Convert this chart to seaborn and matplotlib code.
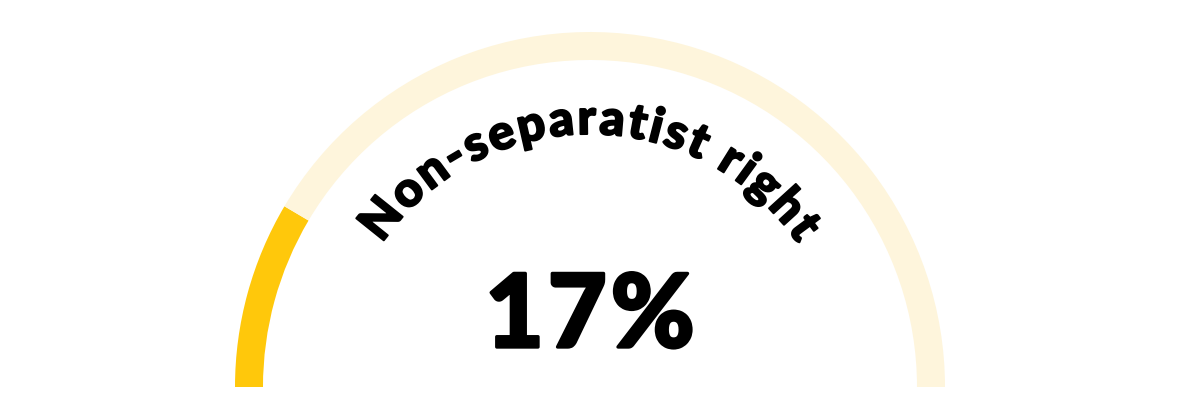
import numpy as np
import seaborn as sns
import matplotlib
matplotlib.use('Agg')
import matplotlib.pyplot as plt
import matplotlib.patheffects as pe
from matplotlib.font_manager import FontProperties

label = 'Non-separatist right'
share = 17
rest = 100 - share
value_text = f'{share}%'

sns.set_theme(style='white')
plt.rcParams['font.family'] = ['Lato', 'DejaVu Sans']

fig = plt.figure(figsize=(11.8, 4.15), dpi=100)
ax = fig.add_axes([0, 0, 1, 1])

# gauge as a half donut: the lower half is an invisible filler slice
cx, cy = 590, 28
ax.pie([share, rest, 100], colors=['#FFC80B', '#FEF5DC', 'none'],
       startangle=180, counterclock=False, center=(cx, cy), radius=355,
       wedgeprops=dict(width=28, linewidth=0))

ax.set_xlim(0, 1180)
ax.set_ylim(0, 415)
ax.set_aspect('equal')
ax.axis('off')

renderer = fig.canvas.get_renderer()


def text_w(s, prop):
    w, h, d = renderer.get_text_width_height_descent(s, prop, ismath=False)
    return w


def char_offsets(s, prop, track):
    # left edge of every character, with extra tracking between letters
    bar = text_w('|', prop)
    out = []
    for i in range(len(s)):
        start = text_w(s[:i] + '|', prop) - bar if i > 0 else 0
        out.append(start + i * track)
    total = text_w(s, prop) + (len(s) - 1) * track
    return out, total


# big number (a thin stroke to get closer to a black weight)
big = FontProperties(family='Lato', weight=900, size=73)
heavy_big = [pe.withStroke(linewidth=2.4, foreground='black')]
offs, total = char_offsets(value_text, big, 4)
for ch, o in zip(value_text, offs):
    ax.text(cx - total / 2 + o + text_w(ch, big) / 2, 68, ch, fontproperties=big,
            ha='center', va='baseline', color='black', path_effects=heavy_big)

# curved label along an arc
prop = FontProperties(family='Lato', weight=900, size=35)
heavy = [pe.withStroke(linewidth=1.4, foreground='black')]
arc_cx, arc_cy, arc_r = 590, 29, 252
offs, total = char_offsets(label, prop, 2.6)
for ch, o in zip(label, offs):
    if ch == ' ':
        continue
    s = o + text_w(ch, prop) / 2 - total / 2
    theta = np.pi / 2 - s / arc_r
    x = arc_cx + arc_r * np.cos(theta)
    y = arc_cy + arc_r * np.sin(theta)
    ax.text(x, y, ch, fontproperties=prop, ha='center', va='baseline',
            rotation=np.degrees(theta) - 90, rotation_mode='anchor',
            color='black', path_effects=heavy)

fig.savefig('out.png', dpi=100, facecolor='white')
